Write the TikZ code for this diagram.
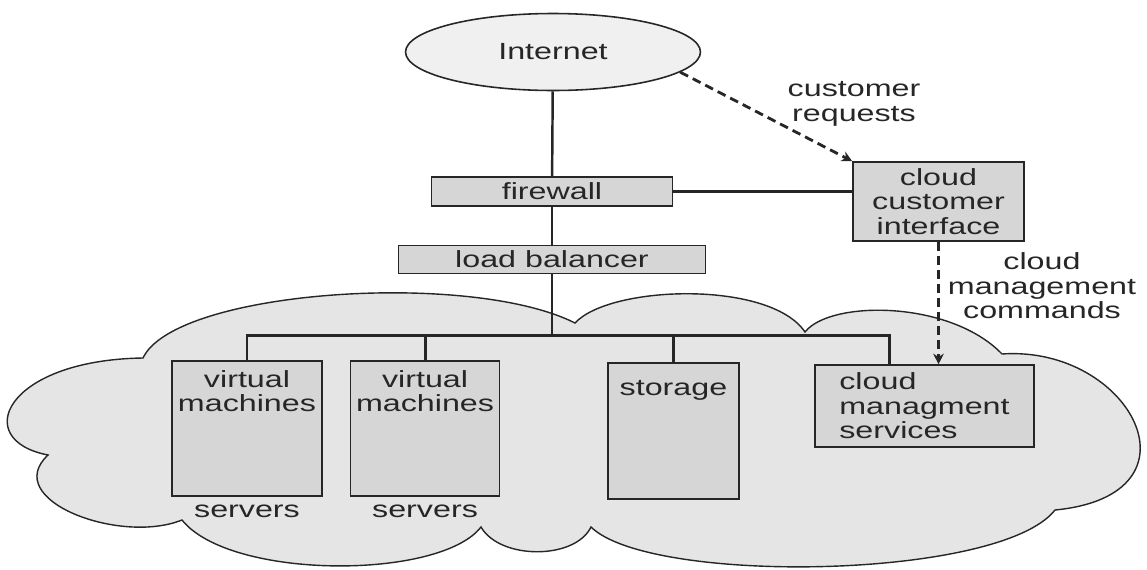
\documentclass[tikz,border=0pt]{standalone}
\usepackage{fontspec}
\setmainfont{Liberation Sans}[FakeStretch=1.38]
\usetikzlibrary{positioning}
\usetikzlibrary{shapes.geometric,arrows.meta}
\tikzset{every picture/.style={/utils/exec={\fontsize{13.3}{14}\selectfont}}}
\definecolor{ink}{gray}{0.15}
\definecolor{cloudgray}{gray}{0.9}
\definecolor{boxgray}{gray}{0.84}
\tikzset{
  box/.style={draw=ink, line width=0.9pt, fill=boxgray, inner sep=0pt, text=ink},
  link/.style={draw=ink, line width=1.4pt},
  trunk/.style={draw=ink, line width=1.7pt},
  request/.style={draw=ink, line width=1.6pt, dash pattern=on 5pt off 3pt,
    -{Stealth[length=6pt,width=6pt]}},
  note/.style={align=center, text=ink},
}

\begin{document}
\begin{tikzpicture}[x=0.02cm,y=-0.02cm]
  \useasboundingbox (0,0) rectangle (1147,569);

  % the cloud behind the servers
  \filldraw[draw=ink, line width=0.8pt, fill=cloudgray]
    (143,358) .. controls (175,290) and (470,270) .. (575,323)
    .. controls (610,285) and (770,280) .. (805,332)
    .. controls (830,300) and (950,300) .. (1002,354)
    .. controls (1130,345) and (1210,495) .. (1055,510)
    .. controls (1000,580) and (650,585) .. (591,527)
    .. controls (575,560) and (500,560) .. (481,527)
    .. controls (440,580) and (230,580) .. (182,520)
    .. controls (120,545) and (0,500) .. (48,455)
    .. controls (-30,440) and (5,360) .. cycle;

  \node [ellipse, draw=ink, line width=0.9pt, fill=gray!12, text=ink,
  minimum width=5.9cm, minimum height=1.54cm] (internet) at (553,52) {Internet};

  \node [box, minimum width=4.82cm, minimum height=0.58cm] (firewall) at (552,191.5) {firewall};
  \node [box, below=0.76cm of firewall, minimum width=6.14cm, minimum height=0.56cm] (balancer) {load balancer};

  \node [box, align=center, minimum width=3.42cm, minimum height=1.58cm] (custif) at (938.5,201.5) {
    cloud\\customer\\interface};

  \node [note] (requests) at (854,104) {customer\\requests};
  \node [note] (commands) at (1042,286) {cloud\\management\\commands};

  % servers and storage
  \node [box, minimum width=3cm, minimum height=2.7cm,
  label={[align=center, anchor=north, inner sep=5.6pt, text=ink]north:{virtual\\machines}},
  label={[inner sep=4.5pt, text=ink]south:servers}] (vm1) at (247,428.5) {};

  \node [box, right=0.54cm of vm1, minimum width=2.98cm, minimum height=2.7cm,
  label={[align=center, anchor=north, inner sep=5.6pt, text=ink]north:{virtual\\machines}},
  label={[inner sep=4.5pt, text=ink]south:servers}] (vm2) {};

  \node [box, minimum width=2.62cm, minimum height=2.72cm,
  label={[anchor=north, inner sep=10pt, text=ink]north:storage}] (storage) at (673.5,431) {};

  \node [box, align=left, minimum width=4.38cm, minimum height=1.64cm] (cmgmt) at (924.5,406) {
    cloud\\managment\\services};

  \draw [link] (internet) -- (firewall);
  \draw [link] (firewall) -- (balancer);
  \draw [link] (firewall.east) -- (firewall.east -| custif.west);

  \coordinate (bus) at (552,335);
  \draw [trunk] (balancer) -- (bus);
  \draw [trunk] (vm1.north) |- (bus) -| ([xshift=1.5cm]cmgmt.north west);
  \draw [trunk] (vm2.north) -- (vm2.north |- bus);
  \draw [trunk] (storage.north) -- (storage.north |- bus);

  \draw [request] (internet.-9) -- (custif.north west);
  \draw [request] (custif.south) -- (custif.south |- cmgmt.north);

\end{tikzpicture}
\end{document}
